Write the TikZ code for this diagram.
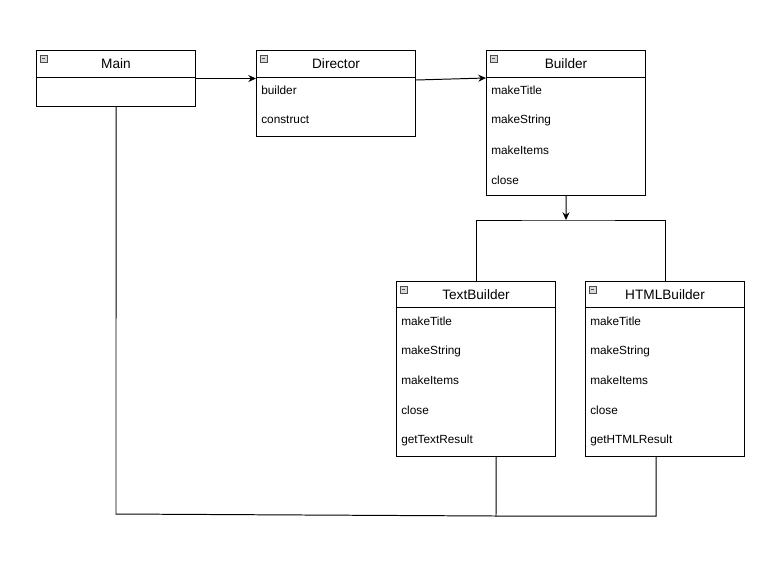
\documentclass[tikz,border=0pt]{standalone}
\usepackage{fontspec}
\setmainfont{Liberation Sans}
\usetikzlibrary{positioning, arrows.meta, calc}

\tikzset{
  classbox/.style={draw, line width=0.7pt, anchor=north west,
    minimum width=3.975cm, inner sep=0pt},
  classname/.style={font=\fontsize{9.7}{12}\selectfont},
  item/.style={anchor=west, inner sep=0pt, font=\fontsize{8.4}{10}\selectfont},
  minusicon/.style={draw=black!70, fill=black!15, line width=0.4pt,
    anchor=north west, minimum size=0.17cm, inner sep=0pt,
    path picture={\draw[line width=0.5pt]
      ([xshift=1.2pt]path picture bounding box.west) --
      ([xshift=-1.2pt]path picture bounding box.east);}},
  conn/.style={line width=0.7pt},
  arr/.style={conn, -{Stealth[length=5.5pt, width=5pt]}}
}

\begin{document}
\begin{tikzpicture}[x=0.025cm, y=-0.025cm]
    \useasboundingbox (0,0) rectangle (762,568);
    % Boxes, top left corners in pixel units
    \node[classbox, minimum height=1.4cm]   (main)        at (36,50)  {};
    \node[classbox, minimum height=2.15cm]  (director)    at (256,50) {};
    \node[classbox, minimum height=3.625cm] (builder)     at (486,50) {};
    \node[classbox, minimum height=4.375cm] (textbuilder) at (396,281) {};
    \node[classbox, minimum height=4.375cm] (htmlbuilder) at (585,281) {};
    % Header dividers
    \draw[conn] ($(main.north west)+(0,27)$) -- ($(main.north east)+(0,27)$);
    \draw[conn] ($(director.north west)+(0,27)$) -- ($(director.north east)+(0,27)$);
    \draw[conn] ($(builder.north west)+(0,27)$) -- ($(builder.north east)+(0,27)$);
    \draw[conn] ($(textbuilder.north west)+(0,26)$) -- ($(textbuilder.north east)+(0,26)$);
    \draw[conn] ($(htmlbuilder.north west)+(0,26)$) -- ($(htmlbuilder.north east)+(0,26)$);
    % Collapse icons
    \node[minusicon] (mainicon) at ($(main.north west)+(4,5)$) {};
    \node[minusicon] (directoricon) at ($(director.north west)+(4,5)$) {};
    \node[minusicon] (buildericon) at ($(builder.north west)+(4,5)$) {};
    \node[minusicon] (textbuildericon) at ($(textbuilder.north west)+(4,5)$) {};
    \node[minusicon] (htmlbuildericon) at ($(htmlbuilder.north west)+(4,5)$) {};
    % Class names
    \node[classname] (maintitle) at ($(main.north)+(0,14)$) {Main};
    \node[classname] (directortitle) at ($(director.north)+(0,14)$) {Director};
    \node[classname] (buildertitle) at ($(builder.north)+(0,14)$) {Builder};
    \node[classname] (textbuildertitle) at ($(textbuilder.north)+(0,14)$) {TextBuilder};
    \node[classname] (htmlbuildertitle) at ($(htmlbuilder.north)+(0,14)$) {HTMLBuilder};
    % Director members
    \node[item] (d1) at (261,90)  {builder};
    \node[item] (d2) at (261,120) {construct};
    % Builder members
    \node[item] (b1) at (491,90)  {makeTitle};
    \node[item] (b2) at (491,120) {makeString};
    \node[item] (b3) at (491,150) {makeItems};
    \node[item] (b4) at (491,180) {close};
    % TextBuilder members
    \node[item] (t1) at (401,321) {makeTitle};
    \node[item] (t2) at (401,351) {makeString};
    \node[item] (t3) at (401,380) {makeItems};
    \node[item] (t4) at (401,410) {close};
    \node[item] (t5) at (401,440) {getTextResult};
    % HTMLBuilder members
    \node[item] (h1) at (590,321) {makeTitle};
    \node[item] (h2) at (590,351) {makeString};
    \node[item] (h3) at (590,380) {makeItems};
    \node[item] (h4) at (590,410) {close};
    \node[item] (h5) at (590,440) {getHTMLResult};
    % Connectors
    \coordinate (split) at (566,220);
    \coordinate (mainend) at (116,514);
    \coordinate (join) at (496,516);
    \coordinate (joinright) at (656,516);
    \draw[arr] (main.east) -- (main.east -| director.west);
    \draw[arr] ($(director.north east)+(0,30)$) -- ($(builder.north west)+(0,28)$);
    \draw[arr] (builder.south) -- (split);
    \draw[conn] (textbuilder.north) |- (split) -| (htmlbuilder.north);
    \draw[conn] (main.south) -- (mainend) -- (join);
    \draw[conn] ($(textbuilder.south)+(20,0)$) -- (join) -- (joinright)
      -- ($(htmlbuilder.south)+(-9,0)$);
\end{tikzpicture}
\end{document}
